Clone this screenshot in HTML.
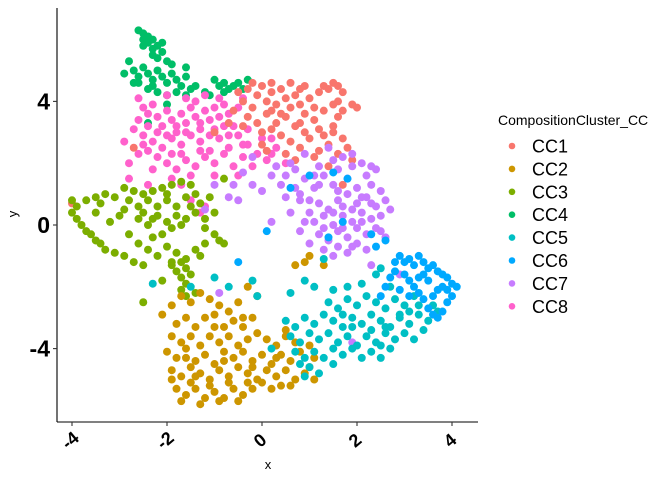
<!DOCTYPE html>
<html><head><meta charset="utf-8"><style>body{margin:0;background:#fff}svg{display:block;font-family:"Liberation Sans",sans-serif}</style></head>
<body>
<svg id="chart" width="672" height="480" viewBox="0 0 672 480">
<g id="points"></g>
<g id="axes"></g>
<g id="legend"></g>
</svg>
<script>
const clusterNames=["CC1","CC2","CC3","CC4","CC5","CC6","CC7","CC8"];
const clusterColors=["#F8766D","#CD9600","#7CAE00","#00BE67","#00BFC4","#00A9FF","#C77CFF","#FF61CC"];
const xTicks=[-4,-2,0,2,4];
const yTicks=[-4,0,4];
const cc4=[-2.6,6.3,-2.5,6.2,-2.4,6.1,-2.5,6.0,-2.3,6.0,-2.4,5.9,-2.2,5.8,-2.3,5.7,-2.1,5.9,-2.5,5.8,-2.3,5.5,-2.2,5.4,-2.1,5.6,-2.0,5.3,-2.8,5.3,-2.7,5.0,-2.6,4.8,-2.5,5.1,-2.4,4.9,-2.3,4.7,-2.2,5.0,-2.1,4.8,-2.0,4.6,-1.9,4.9,-1.8,4.7,-1.7,4.5,-1.6,4.8,-1.5,4.4,-1.4,4.5,-2.6,4.6,-2.4,4.4,-2.2,4.3,-2.0,4.2,-1.8,4.3,-1.6,4.2,-2.9,4.9,-2.7,4.6,-1.9,5.2,-1.6,5.1,-1.2,4.3,-2.3,4.5,-1.0,4.7,-0.9,4.5,-0.8,4.6,-0.7,4.4,-0.6,4.5,-0.5,4.6,-0.4,4.4,-0.8,4.3,-1.1,4.2,-0.3,4.7,-2.4,3.3,-2.0,3.9];
const cc1=[-0.5,4.3,-0.4,4.0,-0.3,4.4,-0.2,3.8,-0.1,4.2,0.0,4.5,0.1,4.0,0.2,4.3,0.3,3.9,0.4,4.4,0.5,4.1,0.6,3.8,0.7,4.2,0.8,3.9,0.9,3.6,-0.3,3.5,-0.1,3.3,0.1,3.6,0.3,3.3,0.5,3.5,0.7,3.2,0.9,3.0,-0.6,3.7,0.0,3.0,0.2,3.1,0.4,2.9,-0.4,3.2,0.6,2.7,0.8,2.5,1.0,2.8,1.2,2.4,1.4,2.6,1.6,2.3,1.8,2.5,1.9,2.1,1.3,2.9,1.5,3.2,1.1,3.4,1.3,3.7,1.2,4.3,1.3,4.5,1.4,4.4,1.5,4.6,1.6,4.5,1.7,4.3,1.6,4.0,1.5,3.9,1.6,3.5,1.5,3.0,1.9,3.9,2.0,3.8,1.7,3.7,0.8,4.4,0.6,4.6,0.2,4.6,-0.2,4.6,1.0,4.1,1.1,3.8,0.2,3.7,-0.7,3.3,0.4,3.6,0.9,4.5,0.5,2.3,0.7,2.1,1.1,2.2,1.7,1.3,0.0,2.6,1.4,1.9,0.1,2.4,-4.0,0.7,-2.7,2.5,-1.0,3.0,0.8,3.3,1.2,3.1,1.7,2.8];
const cc8=[-2.6,4.1,-2.5,3.8,-2.4,3.6,-2.6,3.4,-2.7,3.1,-2.5,2.9,-2.4,3.2,-2.3,3.9,-2.2,3.5,-2.1,3.2,-2.0,3.7,-1.9,3.4,-1.8,3.0,-1.7,3.6,-1.6,3.3,-1.5,3.8,-1.4,3.5,-1.3,3.1,-1.2,3.7,-1.1,3.4,-1.0,3.8,-0.9,3.5,-0.8,3.9,-0.7,3.6,-0.6,3.2,-0.5,3.8,-2.3,2.7,-2.1,2.5,-1.9,2.8,-1.7,2.6,-1.5,2.9,-1.3,2.7,-1.1,2.4,-0.9,2.8,-0.7,2.5,-0.5,2.9,-0.3,2.6,-0.1,2.3,0.1,2.1,0.3,2.5,-2.2,2.2,-2.0,2.0,-1.8,1.8,-1.6,2.1,-1.4,1.9,-1.2,2.2,-1.0,2.0,-0.8,2.3,-0.6,1.9,-0.4,2.2,-0.2,1.9,-2.3,1.8,-1.9,1.5,-1.7,1.3,-1.5,1.6,-2.6,2.3,-2.8,2.0,-2.8,1.5,-2.4,1.3,-1.6,4.1,-1.2,4.2,-0.4,4.1,-0.9,4.1,-2.0,4.2,-0.3,3.1,0.2,2.8,0.5,2.0,-1.0,1.6,-1.2,0.6,-1.3,0.4,-1.5,0.8,-2.9,2.7,-2.0,2.9,-1.6,3.0,-1.4,4.0,-0.7,2.9,-1.0,3.1,-2.5,2.6,-1.8,3.2,-1.1,2.9,-0.4,2.6,0.0,2.8,0.2,2.3,-2.2,3.0,-2.4,2.4,-1.3,3.3,-0.8,3.2,-1.7,2.3,-1.3,2.4,-0.5,1.6,-1.9,2.3];
const cc7=[-0.6,1.3,-0.4,1.7,-0.2,1.3,-0.2,2.2,0.2,1.6,0.3,1.9,0.5,1.6,0.7,1.2,0.9,1.5,1.1,1.2,1.3,1.6,1.5,1.3,1.6,1.8,1.8,1.5,2.0,1.2,2.2,1.6,2.3,1.3,2.5,1.1,2.6,0.8,2.4,0.6,2.2,0.9,2.0,0.7,1.8,1.0,1.6,0.8,1.4,0.5,1.2,0.7,1.0,0.4,0.8,0.8,0.6,0.4,0.5,0.9,1.1,0.1,1.3,0.3,1.5,0.0,1.7,0.3,1.9,0.1,2.1,0.4,2.3,0.2,2.5,0.3,2.7,0.5,2.4,-0.1,2.2,-0.3,2.0,-0.1,1.8,-0.4,1.6,-0.2,1.4,-0.5,1.2,-0.3,1.0,-0.6,0.8,-0.2,1.6,-0.7,1.8,-0.9,2.0,-0.6,2.2,-0.8,1.5,-1.0,1.3,-0.8,2.6,-0.4,2.3,-1.3,0.2,0.1,-0.5,0.8,-0.7,0.9,-1.2,0.5,0.6,2.0,0.9,2.3,1.2,1.9,1.5,2.1,1.7,2.2,1.9,2.3,1.4,2.5,0.4,1.3,0.7,1.8,1.1,1.6,2.1,2.0,1.9,1.9,2.4,1.8,1.7,0.6,1.9,0.5,2.1,0.1,1.5,0.4,1.3,-0.1,1.7,-0.1,2.3,0.7,2.5,-0.2,1.9,-0.7,0.9,0.1,-0.9,-2.2,-1.0,1.3,0.0,1.1,1.9,-3.8,2.9,-1.6,1.2,1.3,0.8,1.0,1.6,1.1,2.1,0.9,2.3,1.9,1.0,0.8];
const cc3=[-4.0,0.8,-3.9,0.6,-4.0,0.4,-3.9,0.2,-3.8,0.0,-3.7,-0.2,-3.6,-0.3,-3.5,-0.5,-3.4,-0.6,-3.3,-0.8,-3.1,-0.9,-2.9,-1.0,-2.7,-1.2,-3.7,0.8,-3.5,0.9,-3.3,1.0,-3.1,0.9,-2.9,1.2,-2.7,1.1,-2.5,1.0,-2.3,1.1,-2.1,1.2,-1.9,1.3,-1.7,1.4,-1.5,1.3,-2.8,0.8,-2.6,0.6,-2.4,0.8,-2.2,0.6,-2.0,0.8,-1.8,0.6,-1.6,0.9,-1.4,1.0,-1.3,0.7,-2.6,0.2,-2.4,0.0,-2.2,0.3,-2.0,0.1,-1.8,0.3,-1.6,0.2,-1.4,0.4,-1.2,0.2,-3.0,0.3,-3.2,0.1,-2.8,-0.3,-2.6,-0.6,-2.4,-0.8,-2.2,-1.0,-2.0,-0.7,-1.8,-0.9,-1.6,-1.1,-1.4,-0.8,-1.2,-0.6,-1.0,-0.3,-0.9,-0.5,-2.3,-0.4,-2.1,-0.3,-1.9,-1.3,-1.8,-1.5,-1.7,-1.7,-1.6,-1.9,-1.7,-2.1,-1.5,-1.6,-1.6,-1.4,-1.9,-1.2,-1.4,-2.2,-1.6,-2.3,-2.5,-2.5,-3.5,0.4,-3.4,0.7,-2.9,0.5,-2.3,0.2,-1.9,-0.1,-1.2,-0.1,-1.0,0.4,-1.1,0.9,-1.3,-1.0,-2.5,-1.3,-2.1,-1.8,-1.7,-1.2,-0.8,-0.6,-1.5,0.6,-2.0,1.0,-2.5,0.4,-1.7,0.0,-0.8,1.5];
const cc2=[-2.1,-2.9,-1.9,-2.6,-1.7,-2.3,-1.5,-2.5,-1.3,-2.2,-1.1,-2.4,-0.9,-2.6,-0.7,-2.8,-0.5,-2.5,-1.8,-3.2,-1.6,-3.0,-1.4,-3.3,-1.2,-3.0,-1.0,-2.9,-0.8,-3.3,-0.6,-3.1,-0.4,-3.3,-0.2,-3.0,-1.9,-3.6,-1.7,-3.8,-1.5,-3.6,-1.3,-3.9,-1.1,-3.6,-0.9,-3.8,-0.7,-3.6,-0.5,-3.9,-0.3,-3.7,-0.1,-3.5,0.1,-3.7,0.3,-3.9,0.5,-3.6,0.7,-3.8,1.0,-3.9,1.1,-4.3,-2.0,-4.1,-1.8,-4.3,-1.6,-4.0,-1.4,-4.4,-1.2,-4.2,-1.0,-4.5,-0.8,-4.1,-0.6,-4.3,-0.4,-4.1,-0.2,-4.4,0.0,-4.2,0.2,-4.5,0.4,-4.2,0.6,-4.4,0.8,-4.1,1.0,-4.6,-1.9,-4.7,-1.7,-4.9,-1.5,-4.6,-1.3,-4.8,-1.1,-5.0,-0.9,-4.7,-0.7,-4.9,-0.5,-4.6,-0.3,-4.8,-0.1,-5.0,0.1,-4.7,0.3,-4.9,0.5,-4.7,0.7,-5.0,0.9,-4.8,1.1,-5.0,-1.8,-5.3,-1.6,-5.5,-1.4,-5.3,-1.2,-5.6,-1.0,-5.4,-0.8,-5.6,-0.6,-5.3,-0.4,-5.5,-0.2,-5.3,0.0,-5.1,0.2,-5.3,-1.7,-5.7,-1.3,-5.8,-0.9,-5.7,-0.5,-5.7,-1.5,-5.1,-1.1,-5.2,-0.7,-5.1,-0.3,-5.1,0.4,-5.2,0.6,-5.2,-0.3,-2.0,-0.1,-2.3,1.0,-1.0,0.9,-1.2,0.7,-1.3,1.3,-1.3,0.5,-3.4,-1.9,-5.0,-1.4,-4.9,-0.8,-4.4,-0.2,-4.6,0.3,-4.3,-1.6,-4.3,-1.0,-3.3,-0.4,-3.0];
const cc5=[0.5,-3.1,0.7,-3.3,0.9,-3.0,1.1,-3.2,1.3,-2.9,1.5,-3.1,1.7,-3.3,1.9,-3.0,2.1,-3.2,2.3,-2.9,2.5,-3.1,2.7,-3.3,2.9,-3.0,3.1,-3.2,3.3,-2.9,3.5,-3.1,3.7,-2.8,0.6,-3.6,0.8,-3.8,1.0,-3.5,1.2,-3.7,1.4,-3.5,1.6,-3.8,1.8,-3.6,2.0,-3.9,2.2,-3.6,2.4,-3.8,2.6,-3.5,2.8,-3.7,3.0,-3.5,3.2,-3.7,3.4,-3.4,0.7,-4.1,0.9,-4.3,1.1,-4.1,1.3,-4.3,1.5,-4.0,1.7,-4.2,1.9,-4.0,2.1,-4.3,2.3,-4.1,2.5,-3.9,2.7,-4.0,1.0,-4.6,1.2,-4.8,0.8,-4.5,1.4,-2.5,1.6,-2.7,1.8,-2.4,2.0,-2.6,2.2,-2.3,2.4,-2.5,2.6,-2.7,2.8,-2.4,3.0,-2.6,3.2,-2.3,1.8,-2.0,2.1,-1.9,2.4,-1.6,2.5,-1.4,2.7,-2.0,1.3,-1.1,1.5,-2.1,0.9,-1.8,1.1,-2.0,0.6,-2.2,2.9,-2.9,3.1,-2.8,2.6,-3.3,2.3,-3.4,1.7,-2.9,3.3,-2.6,-0.1,-2.3,-0.2,-1.8,-0.7,-2.0,-1.0,-1.7,-1.5,-2.0,-2.3,-1.9,0.2,-4.0,1.9,-3.3,2.5,-4.3,3.6,-2.6,0.9,-4.9,1.5,-4.5];
const cc6=[2.9,-1.0,3.0,-1.2,3.1,-1.1,3.2,-1.3,3.3,-1.0,3.4,-1.2,3.5,-1.4,3.6,-1.3,3.7,-1.5,3.8,-1.6,3.9,-1.7,4.0,-1.9,4.1,-2.0,4.0,-2.3,3.9,-2.5,3.8,-2.8,3.7,-3.0,3.6,-2.9,3.5,-2.7,3.4,-2.4,3.3,-2.2,3.2,-2.0,3.1,-1.8,3.0,-1.6,2.8,-1.5,2.7,-1.7,2.6,-2.0,3.5,-1.8,3.7,-2.1,3.6,-2.3,3.8,-2.0,3.9,-2.1,3.4,-1.6,2.5,-2.3,2.9,-2.1,1.8,1.5,1.5,1.7,1.0,1.6,0.6,1.2,2.3,-0.3,2.6,-0.5,1.4,-0.4,1.7,0.1,-0.5,-1.2,3.1,-2.3,2.8,-1.2,3.3,-1.7,2.4,-0.7,0.1,-0.2];
const seriesData=[cc1,cc2,cc3,cc4,cc5,cc6,cc7,cc8];
const NS='http://www.w3.org/2000/svg';
function xs(v){return 262+47.5*v;}
function ys(v){return 225-30.9*v;}
function mk(tag,attrs,parent){const e=document.createElementNS(NS,tag);for(const k in attrs)e.setAttribute(k,attrs[k]);parent.appendChild(e);return e;}
const pts=document.getElementById('points');
const drawOrder=[3,7,0,2,6,1,4,5];
drawOrder.forEach(ci=>{
  const arr=seriesData[ci];
  const g=mk('g',{fill:clusterColors[ci]},pts);
  
  
  for(let i=0;i<arr.length;i+=2){
    const c=mk('circle',{cx:xs(arr[i]),cy:ys(arr[i+1]),r:4},g);
    
    
  }
});
const ax=document.getElementById('axes');
const yl=mk('line',{x1:57,y1:8,x2:57,y2:422,stroke:'#000','stroke-width':1.1},ax);


const xl=mk('line',{x1:57,y1:422,x2:478,y2:422,stroke:'#000','stroke-width':1.1},ax);


xTicks.forEach(t=>{
  const x=xs(t);
  const tk=mk('line',{x1:x,y1:422,x2:x,y2:426,stroke:'#333','stroke-width':1.1},ax);
  
  
  const tx=mk('text',{x:0,y:0,'font-size':18,'font-weight':'bold','text-anchor':'middle',transform:'translate('+(x+2)+',445) rotate(-40)'},ax);
  tx.textContent=t;
  
  
});
yTicks.forEach(t=>{
  const y=ys(t);
  const tk=mk('line',{x1:53,y1:y,x2:57,y2:y,stroke:'#333','stroke-width':1.1},ax);
  
  
  const tx=mk('text',{x:50,y:y+8,'font-size':23,'font-weight':'bold','text-anchor':'end'},ax);
  tx.textContent=t;
  
  
});
const xt=mk('text',{x:268,y:469,'font-size':13,'text-anchor':'middle'},ax);
xt.textContent='x';


const yt=mk('text',{x:0,y:0,'font-size':13,'text-anchor':'middle',transform:'translate(17,214) rotate(-90)'},ax);
yt.textContent='y';


const lg=document.getElementById('legend');
const lt=mk('text',{x:498,y:125,'font-size':14},lg);
lt.textContent='CompositionCluster_CC';


clusterNames.forEach((n,i)=>{
  const y=146+i*22.9;
  const g=mk('g',{},lg);
  
  
  mk('circle',{cx:512,cy:y,r:3.3,fill:clusterColors[i]},g);
  const t=mk('text',{x:532,y:y+6.5,'font-size':18},g);
  t.textContent=n;
});
</script>
</body></html>
